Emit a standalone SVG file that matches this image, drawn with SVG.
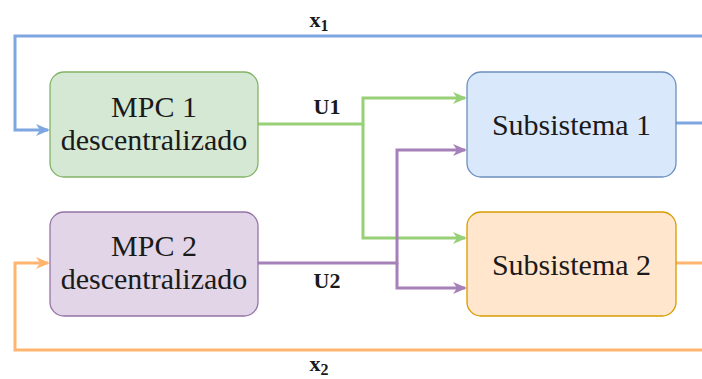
<svg xmlns="http://www.w3.org/2000/svg" width="702" height="379" viewBox="0 0 702 379">
<style>
.box{stroke-width:1.3}
.t{font-size:30px;fill:#1a1a1a;text-anchor:middle}
.lbl{font-size:22px;font-weight:bold;fill:#1a1a1a;text-anchor:middle}
.c{fill:none;stroke-width:3}
</style>
<defs>
<marker id="aB" viewBox="0 0 14 12" refX="12" refY="6" markerWidth="14" markerHeight="12" markerUnits="userSpaceOnUse" orient="auto"><path d="M0,0 L14,6 L0,12 L4,6 z" fill="#7ea6e0"/></marker>
<marker id="aG" viewBox="0 0 14 12" refX="12" refY="6" markerWidth="14" markerHeight="12" markerUnits="userSpaceOnUse" orient="auto"><path d="M0,0 L14,6 L0,12 L4,6 z" fill="#97d077"/></marker>
<marker id="aP" viewBox="0 0 14 12" refX="12" refY="6" markerWidth="14" markerHeight="12" markerUnits="userSpaceOnUse" orient="auto"><path d="M0,0 L14,6 L0,12 L4,6 z" fill="#a680b8"/></marker>
<marker id="aO" viewBox="0 0 14 12" refX="12" refY="6" markerWidth="14" markerHeight="12" markerUnits="userSpaceOnUse" orient="auto"><path d="M0,0 L14,6 L0,12 L4,6 z" fill="#ffb570"/></marker>
</defs>
<g font-family="Liberation Serif, DejaVu Serif, serif">
<g id="connectors">
<path class="c" stroke="#7ea6e0" d="M676,123 H706 V36 H15 V130 H48" marker-end="url(#aB)"/>
<path class="c" stroke="#ffb570" d="M676,263 H706 V350 H15 V263 H48" marker-end="url(#aO)"/>
<path class="c" stroke="#97d077" d="M258,124 H363 V98 H465" marker-end="url(#aG)"/>
<path class="c" stroke="#97d077" d="M363,124 V238 H465" marker-end="url(#aG)"/>
<path class="c" stroke="#a680b8" d="M258,263 H397 V150 H465" marker-end="url(#aP)"/>
<path class="c" stroke="#a680b8" d="M397,263 V288 H465" marker-end="url(#aP)"/>
<text class="lbl" x="327" y="114">U1</text>
<text class="lbl" x="327" y="288">U2</text>
<text class="lbl" x="319" y="27" font-size="24">x<tspan font-size="16" dy="4">1</tspan></text>
<text class="lbl" x="319" y="371" font-size="24">x<tspan font-size="16" dy="4">2</tspan></text>
</g>
<g id="mpc1">
<rect class="box" x="50" y="72" width="208" height="105" rx="14" fill="#d5e8d4" stroke="#82b366"/>
<text class="t" x="154" y="117">MPC 1</text>
<text class="t" x="154" y="150">descentralizado</text>
</g>
<g id="mpc2">
<rect class="box" x="50" y="212" width="208" height="104" rx="14" fill="#e1d5e7" stroke="#9673a6"/>
<text class="t" x="154" y="256">MPC 2</text>
<text class="t" x="154" y="289">descentralizado</text>
</g>
<g id="sub1">
<rect class="box" x="467" y="72" width="209" height="105" rx="14" fill="#dae8fc" stroke="#6c8ebf"/>
<text class="t" x="571.5" y="135">Subsistema 1</text>
</g>
<g id="sub2">
<rect class="box" x="467" y="212" width="209" height="104" rx="14" fill="#ffe6cc" stroke="#d79b00"/>
<text class="t" x="571.5" y="275">Subsistema 2</text>
</g>
</g>
</svg>
